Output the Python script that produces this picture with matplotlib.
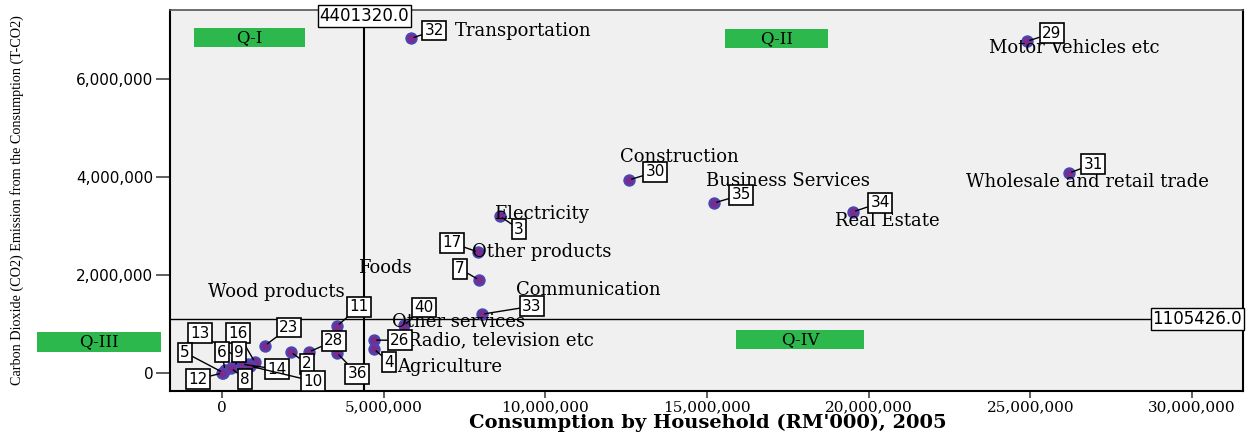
import matplotlib
matplotlib.use("Agg")
import matplotlib.pyplot as plt
from matplotlib.patches import Rectangle
from matplotlib.ticker import FuncFormatter

# household consumption (RM'000) and CO2 emission (T-CO2) per sector, 2005
codes = [32, 29, 30, 35, 34, 31, 3, 17, 7, 33, 40, 11, 26, 4, 36, 28, 2, 23,
         13, 16, 5, 6, 9, 12, 8, 14, 10]
consumption = [5.86e6, 24.90e6, 12.59e6, 15.22e6, 19.52e6, 26.20e6, 8.60e6,
               7.92e6, 7.95e6, 8.04e6, 5.63e6, 3.56e6, 4.70e6, 4.70e6, 3.56e6,
               2.69e6, 2.13e6, 1.33e6, 0.80e6, 1.02e6, 0.03e6, 0.09e6, 0.43e6,
               0.01e6, 0.28e6, 0.62e6, 0.87e6]
emission = [6.83e6, 6.77e6, 3.94e6, 3.47e6, 3.29e6, 4.08e6, 3.20e6, 2.47e6,
            1.90e6, 1.20e6, 0.97e6, 0.96e6, 0.67e6, 0.49e6, 0.41e6, 0.43e6,
            0.43e6, 0.56e6, 0.18e6, 0.22e6, 0.01e6, 0.06e6, 0.18e6, 0.00e6,
            0.10e6, 0.18e6, 0.14e6]
names = ["Transportation", "Motor Vehicles etc", "Construction",
         "Business Services", "Real Estate", "Wholesale and retail trade",
         "Electricity", "Other products", "Foods", "Communication",
         "Other services", "Wood products", "Radio, television etc",
         "Agriculture", "", "", "", "", "", "", "", "", "", "", "", "", ""]

mean_consumption = 4401320.0
mean_emission = 1105426.0

quad_labels = ["Q-I", "Q-II", "Q-III", "Q-IV"]

# label placement, offsets in pixels from the point (up is positive)
box_offsets = [(23, 8), (25, 8), (26, 8), (27, 8), (27, 9), (24, 9), (19, -13),
               (-26, 9), (-19, 11), (50, 8), (20, 18), (22, 19), (26, 0),
               (15, -13), (20, -21), (25, 11), (16, -12), (24, 18), (-48, 31),
               (-17, 29), (-38, 20), (-3, 18), (3, 12), (-24, -6), (14, -11),
               (35, -5), (63, -15)]
name_offsets = [(112, 7), (47, -7), (50, 23), (74, 22), (34, -9), (18, -9),
                (41, 2), (64, 0), (-94, 12), (106, 24), (54, 3), (-61, 34),
                (127, 0), (76, -18)]

# quadrant tags in figure pixels: left, top, width, height
quad_boxes = [(194, 28, 111, 19), (725, 29, 103, 19), (37, 332, 124, 20),
              (736, 330, 128, 19)]

W, H = 1255, 432
fig = plt.figure(figsize=(W / 100, H / 100), dpi=100)
ax = fig.add_axes([170 / W, 41 / H, 1073 / W, 381 / H])
ax.set_facecolor("#f0f0f0")
ax.set_xlim(-1.608e6, 31.58e6)
ax.set_ylim(-0.367e6, 7.408e6)

ax.set_xticks([0, 5e6, 10e6, 15e6, 20e6, 25e6, 30e6])
ax.set_yticks([0, 2e6, 4e6, 6e6])
fmt = FuncFormatter(lambda v, p: "{:,.0f}".format(v))
ax.xaxis.set_major_formatter(fmt)
ax.yaxis.set_major_formatter(fmt)
ax.tick_params(axis="y", direction="out", length=10, width=1.2, color="#444444",
               labelsize=11, pad=2)
ax.tick_params(axis="x", direction="out", length=5, width=1.2, color="#444444",
               labelsize=11, pad=2)
for t in ax.get_xticklabels():
    t.set_family("DejaVu Serif")

for side in ["left", "bottom", "right"]:
    ax.spines[side].set_color("black")
    ax.spines[side].set_linewidth(1.5)
ax.spines["top"].set_color("#555555")
ax.spines["top"].set_linewidth(1.2)

# mean reference lines
ax.axvline(mean_consumption, color="black", lw=1.5, zorder=2)
ax.axhline(mean_emission, color="black", lw=1, zorder=2)
ref_box = dict(boxstyle="square,pad=0.1", fc="white", ec="black", lw=1)
ax.text(mean_consumption, 0.984, "{:.1f}".format(mean_consumption),
        transform=ax.get_xaxis_transform(), ha="center", va="center",
        fontsize=12, bbox=ref_box, clip_on=False, zorder=6)
ax.text(0.999, mean_emission, "{:.1f}".format(mean_emission),
        transform=ax.get_yaxis_transform(), ha="right", va="center",
        fontsize=12, bbox=ref_box, zorder=6)

ax.scatter(consumption, emission, s=55, c="#7b2b8b", edgecolors="#4747b5",
           linewidths=1.5, zorder=3)

for i, (code, x, y) in enumerate(zip(codes, consumption, emission)):
    if names[i]:
        ax.annotate(names[i], (x, y), xytext=name_offsets[i],
                    textcoords="offset pixels", ha="center", va="center",
                    fontsize=13, family="DejaVu Serif", zorder=4)
    ax.annotate(str(code), (x, y), xytext=box_offsets[i],
                textcoords="offset pixels", ha="center", va="center",
                fontsize=11, family="DejaVu Sans", zorder=5,
                bbox=dict(boxstyle="square,pad=0.15", fc="white", ec="black",
                          lw=1.2),
                arrowprops=dict(arrowstyle="-", color="black", lw=1,
                                shrinkA=0, shrinkB=2))

for label, (x0, y0, w, h) in zip(quad_labels, quad_boxes):
    fig.add_artist(Rectangle((x0 / W, 1 - (y0 + h) / H), w / W, h / H,
                             transform=fig.transFigure, fc="#2cb84c",
                             ec="none"))
    fig.text((x0 + w / 2) / W, 1 - (y0 + h / 2) / H, label, ha="center",
             va="center", family="DejaVu Serif", fontsize=12)

fig.text(708 / W, 1 - 423 / H, "Consumption by Household (RM'000), 2005",
         ha="center", va="center", family="DejaVu Serif", fontweight="bold",
         fontsize=14)
fig.text(17 / W, 1 - 200 / H,
         "Carbon Dioxide (CO2) Emission from the Consumption (T-CO2)",
         rotation=90, ha="center", va="center", family="Liberation Serif",
         fontsize=10.2)

fig.savefig("out.png", dpi=100, facecolor="white")
